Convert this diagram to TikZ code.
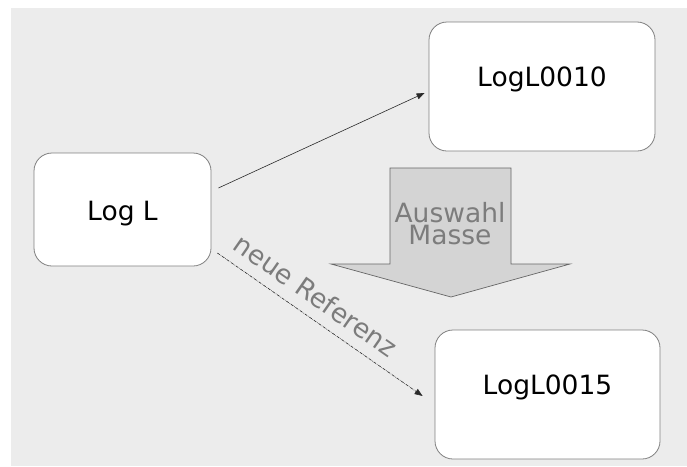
\documentclass[tikz,border=0pt]{standalone}
\usepackage{fontspec}
\setmainfont{DejaVu Sans}
\usetikzlibrary{arrows.meta}
\definecolor{bggray}{HTML}{ECECEC}
\definecolor{boxgray}{HTML}{808080}
\definecolor{labelgray}{HTML}{7C7C7C}
\definecolor{arrowfill}{HTML}{D4D4D4}
\definecolor{arrowline}{HTML}{666666}
\definecolor{linkgray}{HTML}{2A2A2A}
\begin{document}
\begin{tikzpicture}[x=1pt,y=-1pt,
    logbox/.style={draw=boxgray,fill=white,rounded corners=18pt,line width=0.8pt,
      font=\fontsize{26.5}{26.5}\selectfont,text height=20pt,text depth=20pt},
    link/.style={-{Triangle[length=8pt,width=6pt]},line width=0.6pt,draw=linkgray}]
      \useasboundingbox (0,0) rectangle (687,466);
      \fill[bggray] (11,8) rectangle (687,466);
      % Boxes
      \node[logbox,minimum width=177pt,minimum height=113pt,text height=31pt,text depth=10pt]
        (logl) at (122.5,209.5) {Log L};
      \node[logbox,minimum width=226pt,minimum height=129pt] (logla) at (542,86.5) {LogL0010};
      \node[logbox,minimum width=225pt,minimum height=129pt] (loglb) at (547.5,394.5) {LogL0015};
      % Auswahl
      \draw[fill=arrowfill,draw=arrowline,line width=0.7pt]
        (390,168) -- (511,168) -- (511,264) -- (570,264) -- (451,297)
        -- (331,264) -- (390,264) -- cycle;
      \node[labelgray,align=center,inner sep=0pt,font=\fontsize{26.5}{22}\selectfont]
        (auswahl) at (450,224) {Auswahl\\Masse};
      % Links
      \draw[link] ([xshift=7pt,yshift=21.5pt]logl.east)
        -- ([xshift=-4pt,yshift=-6.5pt]logla.west);
      \draw[link,densely dashdotted] ([xshift=6pt,yshift=-43.5pt]logl.east)
        -- node[pos=0.42,sloped,above=11pt,inner sep=0pt,labelgray,
          font=\fontsize{26.5}{26.5}\selectfont] (ref) {neue Referenz}
        ([xshift=-12pt,yshift=-1.5pt]loglb.west);
    \end{tikzpicture}
\end{document}
